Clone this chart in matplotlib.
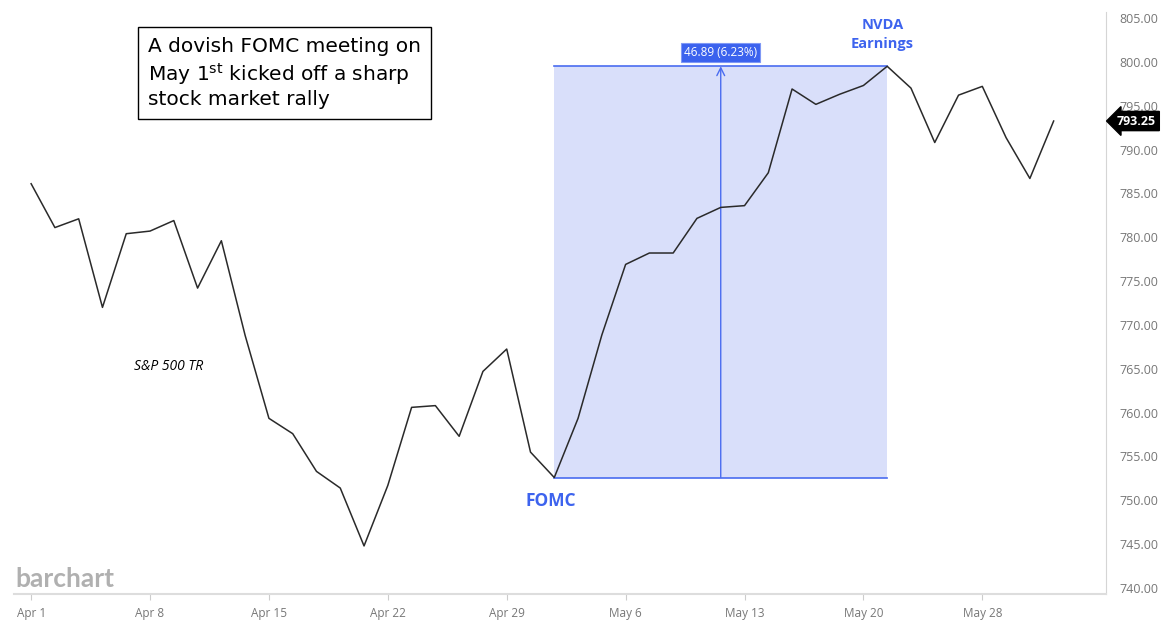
import matplotlib
matplotlib.use("Agg")
import matplotlib.pyplot as plt
from matplotlib.patches import Rectangle
import pandas as pd

# ---- data ----
dates = [d for d in pd.bdate_range("2024-04-01", "2024-05-31") if d != pd.Timestamp("2024-05-27")]
values = [786.1, 781.1, 782.1, 772.0, 780.4, 780.7, 781.9, 774.2, 779.6, 768.8,
          759.35, 757.6, 753.3, 751.4, 744.8, 751.7, 760.6, 760.8, 757.3, 764.7,
          767.25, 755.5, 752.6, 759.35, 768.85, 776.9, 778.2, 778.2, 782.15, 783.4,
          783.6, 787.35, 796.9, 795.15, 796.3, 797.3, 799.49, 797.0, 790.8, 796.2,
          797.2, 791.35, 786.7, 793.25]
tick_labels = ["Apr 1", "Apr 8", "Apr 15", "Apr 22", "Apr 29", "May 6", "May 13", "May 20", "May 28"]
tick_dates = ["2024-04-01", "2024-04-08", "2024-04-15", "2024-04-22", "2024-04-29",
              "2024-05-06", "2024-05-13", "2024-05-20", "2024-05-28"]
y_ticks = [740, 745, 750, 755, 760, 765, 770, 775, 780, 785, 790, 795, 800, 805]
start_date, end_date = "2024-05-01", "2024-05-21"
last_price = 793.25
change_label = "46.89 (6.23%)"

idx = {d: i for i, d in enumerate(dates)}
x = list(range(len(values)))
i0 = idx[pd.Timestamp(start_date)]
i1 = idx[pd.Timestamp(end_date)]
v0, v1 = values[i0], values[i1]

blue = "#4a6cf0"
fig = plt.figure(figsize=(11.67, 6.36), dpi=100)
ax = fig.add_axes([0.012, 1 - 594 / 636, 0.9477 - 0.012, (594 - 12) / 636])
ax.set_xlim(-0.72, 45.2)
ax.set_ylim(739.32, 805.68)

# shaded measurement box
ax.add_patch(Rectangle((i0, v0), i1 - i0, v1 - v0, facecolor="#d9dffa", edgecolor="none", zorder=1))
ax.plot([i0, i1], [v0, v0], color=blue, lw=1.2, zorder=2)
ax.plot([i0, i1], [v1, v1], color=blue, lw=1.2, zorder=2)
xm = (i0 + i1) / 2
ax.annotate("", xy=(xm, v1), xytext=(xm, v0),
            arrowprops=dict(arrowstyle="->", color=blue, lw=1.0, mutation_scale=14,
                            shrinkA=0, shrinkB=0), zorder=2)
ax.text(xm, v1 + 1.55, change_label, ha="center", va="center", fontsize=8.5, color="white",
        family="Open Sans",
        bbox=dict(boxstyle="square,pad=0.25", facecolor="#3b62ee", edgecolor="#7f98f5", lw=0.8))

ax.plot(x, values, color="#2a2a2a", lw=1.1, zorder=3)

# annotations
ax.text(i0 - 0.15, 749.9, "FOMC", ha="center", va="center", fontsize=12.5, fontweight="bold",
        color="#3d63ee", family="Open Sans")
ax.text(i1 - 0.2, 803.1, "NVDA\nEarnings", ha="center", va="center", fontsize=10.5, fontweight="bold",
        color="#3d63ee", family="Open Sans", linespacing=1.5)
ax.text(5.8, 765.3, "S&P 500 TR", ha="center", va="center", fontsize=10, style="italic",
        color="black", family="Open Sans")
fig.text(148 / 1167, 1 - 73 / 636,
         "A dovish FOMC meeting on\nMay 1$^{\\mathrm{st}}$ kicked off a sharp\nstock market rally",
         ha="left", va="center", fontsize=14.5, color="black", linespacing=1.25,
         bbox=dict(boxstyle="square,pad=0.5", facecolor="white", edgecolor="black", lw=1.0))
fig.text(15 / 1167, 1 - 579 / 636, "barchart", fontsize=19, fontweight="bold", color="#b0b0b0",
         family="Lato", ha="left", va="center")

# last price tag
ax.annotate(f"{last_price:.2f}", xy=(1.0, last_price), xycoords=("axes fraction", "data"),
            xytext=(8, 0), textcoords="offset points", ha="left", va="center",
            fontsize=9, fontweight="bold", color="white", family="Open Sans",
            bbox=dict(boxstyle="larrow,pad=0.25", facecolor="black", edgecolor="black"), zorder=6)

# axes styling
for s in ["top", "left"]:
    ax.spines[s].set_visible(False)
ax.spines["right"].set_color("#d5d5d5")
ax.spines["bottom"].set_color("#dddddd")
ax.spines["bottom"].set_linewidth(1.5)
ax.yaxis.tick_right()
ax.set_yticks(y_ticks)
ax.set_yticklabels([f"{v:.2f}" for v in y_ticks])
ax.tick_params(axis="y", length=0, pad=10, labelsize=9, labelcolor="#777777")
ax.set_xticks([idx[pd.Timestamp(d)] for d in tick_dates])
ax.set_xticklabels(tick_labels)
ax.tick_params(axis="x", length=4, color="#cccccc", pad=5, labelsize=8.5, labelcolor="#777777")
for lab in ax.get_xticklabels() + ax.get_yticklabels():
    lab.set_family("Open Sans")

fig.savefig("out.png", dpi=100)
